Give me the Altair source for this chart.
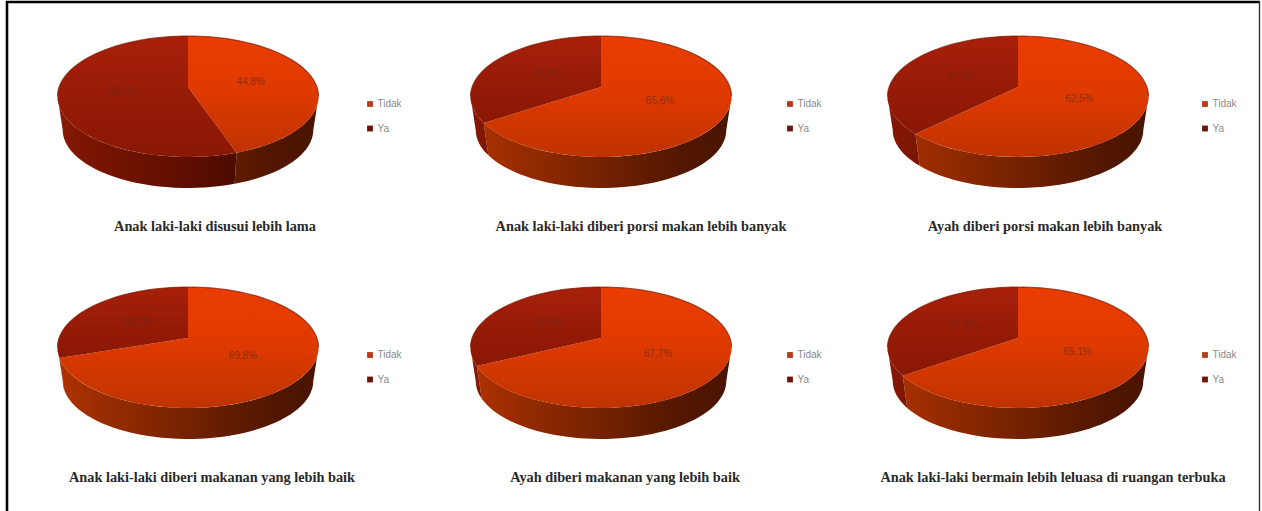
import math
import altair as alt

# Survey answers, percent of respondents answering "Tidak" in each question
questions = [
    "Anak laki-laki disusui lebih lama",
    "Anak laki-laki diberi porsi makan lebih banyak",
    "Ayah diberi porsi makan lebih banyak",
    "Anak laki-laki diberi makanan yang lebih baik",
    "Ayah diberi makanan yang lebih baik",
    "Anak laki-laki bermain lebih leluasa di ruangan terbuka",
]
tidak_pct = [44.8, 65.6, 62.5, 69.8, 67.7, 65.1]
categories = ["Tidak", "Ya"]

# Page layout of the 2x3 grid
W, H = 1262, 511
pie_cx = [188, 601, 1018, 188, 601, 1018]
pie_cy = [87, 87, 87, 338, 338, 338]
legend_x = [370, 790, 1205, 370, 790, 1205]
title_cx = [215, 641, 1045, 212, 625, 1053]
title_y = [227, 227, 227, 478, 478, 478]

# Tilted-disc projection of a unit circle
B, A, K = 128.9, 59.0, 0.157
BASE_SCALE, BASE_DROP = 0.96, 33.8


def project(r, deg, lower=False):
    th = math.radians(deg)
    u, v = r * math.sin(th), -r * math.cos(th)
    d = 1 - K * v
    x, y = B * u / d, A * v / d
    if lower:
        return BASE_SCALE * x, BASE_SCALE * y + BASE_DROP
    return x, y


def arc(a, b, step=3.0):
    n = max(2, int(abs(b - a) / step) + 1)
    return [a + (b - a) * i / (n - 1) for i in range(n)]


def hex2rgb(c):
    return [int(c[i:i + 2], 16) for i in (1, 3, 5)]


def mix(stops, t):
    for (t0, c0), (t1, c1) in zip(stops, stops[1:]):
        if t <= t1:
            f = (t - t0) / (t1 - t0)
            a, b = hex2rgb(c0), hex2rgb(c1)
            return "#%02x%02x%02x" % tuple(round(p + (q - p) * f) for p, q in zip(a, b))
    return stops[-1][1]


top_shades = {
    "Tidak": [("#ea3d00", 0), ("#e03a00", 0.45), ("#bf3300", 1)],
    "Ya": [("#a8200a", 0), ("#941a06", 0.6), ("#8a1804", 1)],
}
wall_shades = {
    "Tidak": [(0, "#b23200"), (0.1, "#a02e00"), (0.5, "#742200"), (0.8, "#521600"), (1, "#4a1400")],
    "Ya": [(0, "#881805"), (0.1, "#7c1503"), (0.5, "#5e0e00"), (0.85, "#3c0800"), (1, "#3c0800")],
}

x_enc = alt.X("x:Q", axis=None, scale=alt.Scale(domain=[0, W], range=[0, W], nice=False, zero=False))
y_enc = alt.Y("y:Q", axis=None, scale=alt.Scale(domain=[0, H], range=[0, H], nice=False, zero=False))


def polygon(points, fill):
    rows = [{"x": px, "y": py, "i": i} for i, (px, py) in enumerate(points)]
    return alt.Chart(alt.Data(values=rows)).mark_line(
        fill=fill, stroke="#000000", strokeOpacity=0, strokeWidth=0, interpolate="linear"
    ).encode(x=x_enc, y=y_enc, order="i:Q")


def vgrad(stops):
    return {
        "gradient": "linear", "x1": 0, "y1": 0, "x2": 0, "y2": 1,
        "stops": [{"color": c, "offset": o} for c, o in stops],
    }


def wall_fill(cat, x0, x1, cx):
    # Shading runs left to right across the whole disc, not per slice
    span = 2 * B * 1.02
    samples = [i / 6 for i in range(7)]
    stops = []
    for s in samples:
        xp = x0 + (x1 - x0) * s
        t = min(1, max(0, (xp - cx + span / 2) / span))
        stops.append({"color": mix(wall_shades[cat], t), "offset": s})
    return {"gradient": "linear", "x1": 0, "y1": 0, "x2": 1, "y2": 0, "stops": stops}


layers = []
label_rows = []
legend_marks = []
legend_text = []

# Front edge of the disc is visible between these two bearings
VIS_R = math.degrees(math.acos(-K))
VIS_L = 360 - VIS_R

for n, q in enumerate(questions):
    cx, cy = pie_cx[n], pie_cy[n]
    split = tidak_pct[n] * 3.6
    ranges = {"Tidak": (0, split), "Ya": (split, 360)}

    def at(r, deg, lower=False):
        px, py = project(r, deg, lower)
        return cx + px, cy + py

    # Side walls
    for cat, (a, b) in ranges.items():
        lo, hi = max(a, VIS_R), min(b, VIS_L)
        if hi <= lo:
            continue
        upper = [at(1, d) for d in arc(lo, hi)]
        under = [at(1, d, True) for d in arc(hi, lo)]
        pts = upper + under
        xs = [p[0] for p in pts]
        layers.append(polygon(pts, wall_fill(cat, min(xs), max(xs), cx)))

    # Top faces
    for cat, (a, b) in ranges.items():
        pts = [(cx, cy)] + [at(1, d) for d in arc(a, b)]
        layers.append(polygon(pts, vgrad(top_shades[cat])))

    # Dark rim along the far side of the disc
    rim = [{"x": at(1, d)[0], "y": at(1, d)[1], "i": i} for i, d in enumerate(arc(VIS_L, 360 + VIS_R))]
    layers.append(
        alt.Chart(alt.Data(values=rim)).mark_line(stroke="#7a1a00", strokeWidth=1.2, strokeOpacity=0.7)
        .encode(x=x_enc, y=y_enc, order="i:Q")
    )

    # Percentage labels sit half way out along each slice's middle bearing
    for cat, (a, b) in ranges.items():
        lx, ly = at(0.5, (a + b) / 2)
        pct = tidak_pct[n] if cat == "Tidak" else 100 - tidak_pct[n]
        label_rows.append({"x": lx, "y": ly, "t": f"{pct:.1f}%".replace(".", ",")})

    # Legend entries
    for k, cat in enumerate(categories):
        ly = cy + 17 + 24.5 * k
        legend_marks.append({"x": legend_x[n], "y": ly, "c": cat})
        legend_text.append({"x": legend_x[n] + 7.5, "y": ly, "t": cat})

titles = [{"x": title_cx[i], "y": title_y[i], "t": questions[i]} for i in range(len(questions))]

labels = alt.Chart(alt.Data(values=label_rows)).mark_text(
    font="Liberation Sans", fontSize=10, color="#6e2a18", opacity=0.7, align="center", baseline="middle"
).encode(x=x_enc, y=y_enc, text="t:N")

legend_dots = alt.Chart(alt.Data(values=legend_marks)).mark_square(size=34, opacity=1).encode(
    x=x_enc, y=y_enc,
    color=alt.Color("c:N", legend=None, scale=alt.Scale(domain=categories, range=["#b83a18", "#6b1508"])),
)
legend_labels = alt.Chart(alt.Data(values=legend_text)).mark_text(
    font="Liberation Sans", fontSize=10, color="#8a8a8a", align="left", baseline="middle"
).encode(x=x_enc, y=y_enc, text="t:N")

title_marks = alt.Chart(alt.Data(values=titles)).mark_text(
    font="Liberation Serif", fontSize=14.3, fontWeight="bold", color="#2a2a2a", align="center", baseline="middle"
).encode(x=x_enc, y=y_enc, text="t:N")

# Open frame: left, top and right edges only
frame_left = alt.Chart(alt.Data(values=[{"x": 7, "y": 1, "y2": H}])).mark_rule(color="#000000", strokeWidth=2.6).encode(
    x=x_enc, y=y_enc, y2="y2:Q")
frame_top = alt.Chart(alt.Data(values=[{"x": 6, "x2": 1260, "y": 2}])).mark_rule(color="#000000", strokeWidth=2.4).encode(
    x=x_enc, x2="x2:Q", y=y_enc)
frame_right = alt.Chart(alt.Data(values=[{"x": 1259.5, "y": 1, "y2": H}])).mark_rule(color="#333333", strokeWidth=1.4).encode(
    x=x_enc, y=y_enc, y2="y2:Q")

chart = alt.layer(
    *layers, labels, legend_dots, legend_labels, title_marks, frame_left, frame_top, frame_right
).properties(
    width=W, height=H, padding=0, background="#ffffff",
    autosize=alt.AutoSizeParams(type="none"),
).configure_view(stroke=None)

chart.save("out.html", embed_options={"renderer": "svg", "actions": False})
